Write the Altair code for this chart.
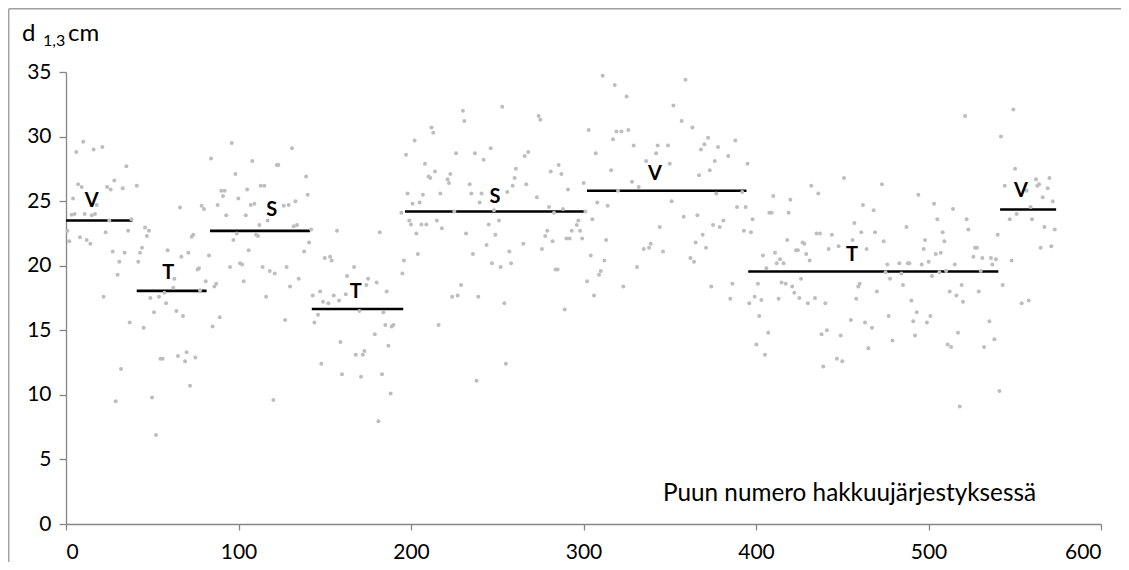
import altair as alt
import pandas as pd

# ---- scatter: tree number in felling order vs. diameter d1,3 (cm) ----
x_a = [10.0,6.0,16.0,21.1,35.0,7.0,9.1,4.1,28.0,23.8,25.9,32.9,41.0,17.8,3.3,5.0,10.8,14.9,16.8,25.1,37.9,0.8,1.9,8.1,12.0,14.1,23.0,36.0,45.8,48.1,46.9,44.1,42.9,27.1,34.0,30.9,41.9,29.9,21.8,36.9,45.0,31.9,28.8,49.9,52.2,58.9,66.9,70.9,66.1,78.6,80.0,84.1,72.9,73.8,82.9,76.3,77.1,62.8,62.2,57.0,48.9,53.9,58.0,51.0,64.0,67.8,81.0,86.0,87.1,77.7,89.1,85.0,54.7,56.0,64.9,69.9,69.0,75.0,71.9,87.9,91.0,90.0,92.0,92.9]
y_a = [29.6,28.8,29.0,29.2,27.7,26.3,26.1,25.2,26.6,26.1,25.9,26.0,26.2,24.7,23.95,24.0,24.0,23.9,24.0,23.5,23.6,22.7,21.9,22.2,22.0,21.7,22.6,22.7,22.95,22.7,22.3,21.4,21.0,21.1,21.0,20.3,20.3,19.3,17.6,15.6,15.2,12.0,9.5,9.8,6.9,21.2,20.7,21.0,24.5,24.65,24.4,28.3,22.25,22.4,20.8,19.7,19.8,19.0,18.3,17.9,17.5,17.6,17.1,16.4,16.5,16.1,18.8,18.4,18.6,18.1,16.0,15.3,12.8,12.8,13.0,13.3,12.6,12.9,10.7,24.7,25.4,25.8,25.8,23.9]

x_b = [96.1,131.0,108.0,122.2,123.1,98.2,139.2,105.0,112.9,115.0,99.9,140.1,107.1,109.2,126.2,129.1,133.0,104.2,116.9,112.1,132.0,133.9,142.1,99.0,110.2,111.3,97.0,140.9,105.9,138.0,95.1,100.9,102.1,114.0,118.1,121.0,127.9,103.0,134.9,129.9,116.0,127.0,120.2]
y_b = [29.5,29.1,28.1,27.8,27.8,27.1,26.9,25.9,26.2,26.2,25.2,25.5,24.7,24.8,24.65,24.7,25.0,23.9,23.5,23.15,23.05,23.15,22.8,22.5,22.4,22.3,22.0,21.8,21.2,21.1,19.9,20.2,20.1,19.9,19.6,19.4,19.9,18.8,19.0,18.4,17.6,15.8,9.6]

x_c = [157.1,181.9,150.0,153.1,154.0,167.0,162.9,175.1,174.1,180.1,143.0,147.3,149.0,152.1,155.2,158.3,162.2,185.9,170.1,184.0,144.0,146.1,185.1,189.8,188.8,179.0,186.9,159.1,168.0,172.0,173.0,148.0,160.0,171.0,183.2,188.2,181.1]
y_c = [22.7,22.6,20.6,20.7,20.4,19.9,19.2,19.0,18.5,18.7,17.7,18.0,17.2,17.1,17.7,17.3,17.8,18.0,16.5,16.4,15.6,16.2,15.4,15.4,15.3,14.7,13.8,14.1,13.1,13.1,13.4,12.4,11.6,11.4,11.6,10.1,7.95]

x_d = [230.1,230.9,252.9,274.0,275.0,211.9,212.9,202.1,197.1,226.1,237.1,246.2,242.1,265.9,268.0,208.1,213.9,210.2,211.2,222.8,221.2,222.0,260.8,260.1,281.0,285.6,234.0,235.0,240.9,239.8,258.9,255.8,266.8,273.0,198.0,200.9,205.0,206.9,217.0,194.4,225.1,248.1,280.0,282.9,199.0,200.0,206.0,208.9,215.0,217.9,203.1,231.9,245.0,251.0,248.9,243.8,265.1,279.0,277.8,282.1,275.9,204.0,235.9,257.0,246.9,252.0,258.0,195.9,195.0,283.8,285.0,229.0,223.9,227.0,239.0,254.1,216.0,255.0,238.0]
y_d = [32.0,31.2,32.3,31.6,31.3,30.7,30.3,29.7,28.6,28.7,28.7,29.1,28.2,28.5,28.8,27.9,27.3,26.9,26.8,27.1,26.7,26.4,27.5,26.8,27.3,27.8,26.3,25.6,25.6,24.9,26.2,25.7,26.3,25.3,25.6,24.8,24.9,25.5,25.6,24.1,24.2,24.3,24.55,24.1,23.5,23.2,23.2,23.2,23.5,22.9,22.5,22.5,23.2,23.5,22.4,21.6,21.7,22.7,22.3,21.9,21.3,20.9,20.9,21.1,20.2,19.9,20.2,20.4,19.4,19.7,19.7,18.5,17.6,17.7,17.6,17.1,15.4,12.4,11.1]

x_e = [311.1,318.1,325.0,359.1,352.1,356.9,363.1,303.0,319.1,322.0,326.0,317.1,329.1,343.0,349.0,372.2,370.1,368.1,378.0,307.1,342.1,336.3,376.1,350.0,373.2,367.0,316.0,287.2,291.0,300.1,328.1,332.0,320.0,377.0,308.0,314.0,351.1,288.1,301.1,305.1,297.0,296.1,293.2,298.0,358.1,366.0,375.1,379.0,381.1,344.2,369.1,365.0,371.0,339.0,338.0,334.9,346.1,290.1,292.0,299.2,313.1,304.2,312.1,362.0,364.1,331.0,310.0,309.0,302.1,323.1,374.1,306.1,289.1]
y_e = [34.7,34.0,33.1,34.4,32.4,31.2,30.7,30.5,30.4,30.4,30.5,29.8,29.3,29.3,29.3,29.9,29.4,29.0,29.2,28.7,28.7,28.1,28.1,27.9,27.4,27.0,27.4,27.1,25.9,26.4,26.5,26.1,25.8,25.6,24.9,24.65,25.0,24.4,24.2,23.6,23.5,23.15,22.7,22.7,23.8,23.9,23.15,23.0,23.5,23.0,22.4,21.8,21.4,21.7,21.4,21.3,21.1,22.1,22.1,22.1,22.0,20.8,20.4,20.6,20.3,19.9,19.6,19.3,18.8,18.4,18.4,17.7,16.6]

x_f = [388.0,383.9,395.1,392.0,451.0,473.0,432.0,436.1,410.0,419.9,389.0,394.0,407.7,409.1,418.9,462.0,468.2,398.0,393.0,397.1,457.0,461.0,469.0,474.0,435.1,437.1,444.0,418.1,427.0,428.0,442.1,447.9,456.0,464.1,423.2,424.3,411.0,429.1,404.0,413.9,412.0,416.0,431.1,406.0,476.1,475.1,477.7,386.3,401.1,414.8,417.2,421.0,426.1,422.2,425.1,430.1,434.2,440.2,413.1,403.1,399.2,396.1,385.1,459.3,460.1,470.1,458.1,401.9,407.1,400.2,405.2,438.0,441.1,449.1,455.0,463.2,467.2,465.1,446.9,450.0,439.0,476.9]
y_f = [29.7,28.5,27.9,25.7,26.8,26.3,26.2,25.6,25.4,25.1,24.55,24.55,24.1,24.1,24.1,24.7,24.3,23.6,22.7,22.6,23.3,22.6,22.6,21.9,22.5,22.5,22.4,22.0,21.8,21.7,21.3,21.5,22.0,21.3,21.2,21.2,21.0,20.9,20.8,20.5,20.2,20.2,20.4,19.8,20.1,19.5,19.0,18.6,18.6,18.7,18.6,18.4,19.0,17.9,17.5,17.1,17.5,17.1,17.45,17.35,17.6,17.1,17.45,18.4,18.6,18.0,17.45,16.1,14.8,13.9,13.1,14.7,15.0,14.6,15.8,15.6,15.2,13.6,12.8,12.6,12.2,16.1]

x_g = [521.2,549.2,542.0,550.2,544.2,556.9,562.3,564.1,563.1,570.1,569.1,566.2,572.0,559.2,551.1,547.1,560.0,567.2,573.2,565.0,571.2,494.1,503.2,514.2,487.2,505.1,522.1,523.1,508.2,498.0,509.2,497.2,504.2,507.1,540.1,527.0,528.1,526.0,531.2,536.2,539.1,537.0,548.2,483.1,488.0,488.9,496.1,500.1,515.2,484.3,506.3,510.2,530.3,502.0,485.2,519.2,543.0,512.3,516.2,529.1,520.0,490.1,554.0,558.1,493.2,491.2,501.1,499.1,535.3,492.2,517.1,479.1,511.1,513.1,532.2,538.2,541.1,518.1]
y_g = [31.6,32.1,30.0,27.5,26.2,25.8,26.7,26.3,26.2,26.8,26.0,25.3,25.0,24.55,24.0,23.6,23.6,23.0,22.8,21.4,21.5,25.5,24.8,24.4,23.0,23.6,23.6,22.8,22.6,22.0,21.9,21.3,20.9,21.0,22.4,21.4,21.4,20.7,20.6,20.6,20.5,20.1,20.4,20.2,20.2,20.2,20.1,20.3,20.1,19.4,19.5,19.6,19.6,19.2,18.5,18.5,18.5,18.0,17.7,18.0,17.2,17.3,17.1,17.3,16.4,15.7,16.1,15.6,15.7,14.6,14.8,14.2,13.9,13.7,13.7,14.3,10.3,9.1]

# ---- stand segments (mean diameter per segment) ----
seg_start = [0, 41, 83.5, 142.5, 196.5, 302, 395.5, 541.5]
seg_end = [38.5, 81.5, 141.5, 195.5, 300.5, 394.5, 540.5, 574]
seg_mean = [23.5, 18.05, 22.7, 16.65, 24.2, 25.8, 19.55, 24.35]
seg_label = ["V", "T", "S", "T", "S", "V", "T", "V"]
label_x = [14.9, 59.3, 119.2, 167.9, 248.7, 341.4, 455.7, 553.6]
label_y = [25.0, 19.4, 24.3, 17.95, 25.35, 27.1, 20.85, 25.8]

x_ticks = [0, 100, 200, 300, 400, 500, 600]
y_ticks = [0, 5, 10, 15, 20, 25, 30, 35]

pts = pd.DataFrame({
    "tree": x_a + x_b + x_c + x_d + x_e + x_f + x_g,
    "d": y_a + y_b + y_c + y_d + y_e + y_f + y_g,
})
segs = pd.DataFrame({"start": seg_start, "end": seg_end, "mean": seg_mean})
labs = pd.DataFrame({"lx": label_x, "ly": label_y, "lab": seg_label})
one = pd.DataFrame({"k": [0]})

FONT = "Lato"
AXC = "#868686"
xs = alt.Scale(domain=[0, 600], nice=False, zero=False)
ys = alt.Scale(domain=[0, 35], nice=False)

points = alt.Chart(pts).mark_circle(size=16, color="#bdbdbd", opacity=1).encode(
    x=alt.X("tree:Q", scale=xs, title=None,
            axis=alt.Axis(values=x_ticks, grid=False, tickSize=6, labelPadding=11,
                          domainColor=AXC, tickColor=AXC, domainWidth=1.3, tickWidth=1.3,
                          labelFont=FONT, labelFontSize=21, labelColor="black")),
    y=alt.Y("d:Q", scale=ys, title=None,
            axis=alt.Axis(values=y_ticks, grid=False, tickSize=7, labelPadding=8,
                          domainColor=AXC, tickColor=AXC, domainWidth=1.3, tickWidth=1.3,
                          labelFont=FONT, labelFontSize=21, labelColor="black")),
)

segments = alt.Chart(segs).mark_rule(color="black", strokeWidth=2.6).encode(
    x=alt.X("start:Q", scale=xs), x2="end:Q", y=alt.Y("mean:Q", scale=ys)
)

labels = alt.Chart(labs).mark_text(font=FONT, fontWeight="bold", fontSize=20,
                                   color="black", baseline="middle", align="center").encode(
    x=alt.X("lx:Q", scale=xs), y=alt.Y("ly:Q", scale=ys), text="lab:N"
)

t_d = alt.Chart(one).mark_text(text="d", font=FONT, fontSize=24, color="black",
                               align="left", baseline="alphabetic").encode(
    x=alt.value(-44), y=alt.value(-31))
t_sub = alt.Chart(one).mark_text(text="1,3", font=FONT, fontSize=16, color="black",
                                 align="left", baseline="alphabetic").encode(
    x=alt.value(-23), y=alt.value(-26))
t_cm = alt.Chart(one).mark_text(text="cm", font=FONT, fontSize=24, color="black",
                                align="left", baseline="alphabetic").encode(
    x=alt.value(2), y=alt.value(-31))
t_xt = alt.Chart(one).mark_text(text="Puun numero hakkuujärjestyksessä", font=FONT,
                                fontSize=24.3, color="black", align="left",
                                baseline="alphabetic").encode(
    x=alt.value(597), y=alt.value(429))

frame_l = alt.Chart(one).mark_rule(color="#a0a0a0", strokeWidth=1.5).encode(
    x=alt.value(-57.3), y=alt.value(-63.3), y2=alt.value(700))
frame_t = alt.Chart(one).mark_rule(color="#a0a0a0", strokeWidth=1.5).encode(
    x=alt.value(-57.3), x2=alt.value(1200), y=alt.value(-63.3))

chart = alt.layer(
    frame_l, frame_t, segments, points, labels, t_d, t_sub, t_cm, t_xt
).properties(
    width=1035, height=452,
    padding={"left": 58, "top": 64, "right": 20, "bottom": 38},
    autosize=alt.AutoSizeParams(type="none"),
    background="white",
).configure_view(stroke=None)

chart.save("out.html", embed_options={"renderer": "svg", "actions": False})
